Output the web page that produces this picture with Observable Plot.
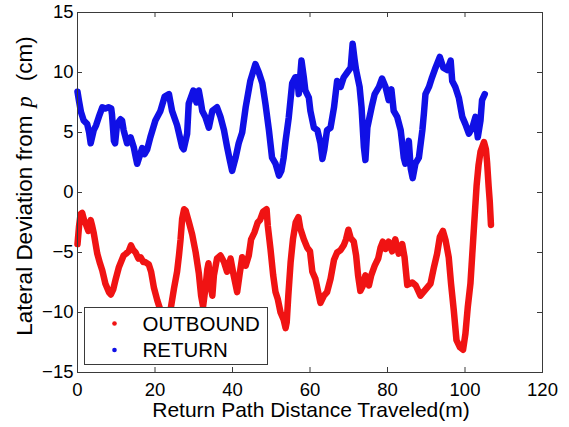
<!DOCTYPE html>
<html>
<head>
<meta charset="utf-8">
<script src="https://cdn.jsdelivr.net/npm/d3@7"></script>
<script src="https://cdn.jsdelivr.net/npm/@observablehq/plot@0.6"></script>
<style>
  html, body { margin: 0; padding: 0; background: #fff; }
  #chart { width: 569px; height: 427px; }
</style>
</head>
<body>
<div id="chart"></div>
<script>
// ---- Data ----
const xTicks = [0, 20, 40, 60, 80, 100, 120];
const yTicks = [-15, -10, -5, 0, 5, 10, 15];
const seriesNames = ["OUTBOUND", "RETURN"];
const xLabel = "Return Path Distance Traveled(m)";
const yLabelParts = ["Lateral Deviation from", "p", "(cm)"];

// OUTBOUND (red)
const outboundX = [0.0,0.4,0.8,1.2,1.7,2.1,2.8,3.4,3.8,4.2,5.1,5.8,6.4,7.2,8.1,8.6,9.2,9.8,10.7,11.9,12.5,13.2,13.8,14.4,15.0,15.7,16.3,17.0,17.5,18.4,19.0,19.7,20.6,21.2,21.8,22.6,23.4,24.0,24.9,25.7,26.2,26.6,27.0,27.5,27.9,28.7,29.6,30.5,31.3,31.9,32.4,33.0,33.5,33.8,34.3,34.8,35.2,36.0,36.9,37.8,38.6,39.5,40.3,41.2,41.8,42.5,43.4,44.2,44.8,45.7,46.5,47.1,47.9,48.8,49.1,49.8,50.5,51.1,51.7,52.4,53.2,53.7,54.0,54.4,55.0,55.6,56.3,57.0,57.5,58.4,59.3,60.0,60.6,61.4,62.3,62.7,63.6,64.4,65.3,66.2,67.0,67.9,68.7,69.3,69.9,70.5,71.3,71.9,72.4,73.0,73.6,74.3,75.2,75.8,76.7,77.6,78.2,78.8,79.5,80.3,81.2,82.0,82.9,83.8,84.4,85.1,86.4,87.3,88.5,89.8,91.1,92.0,92.8,93.5,94.3,95.0,95.8,96.4,97.1,97.8,98.7,99.5,100.1,100.7,101.4,102.1,103.0,103.5,104.0,104.9,105.4,105.7,106.1,106.4,106.7];
const outboundY = [-4.3,-2.8,-1.8,-1.7,-2.3,-2.6,-3.2,-2.3,-2.8,-3.4,-5.1,-5.9,-6.5,-7.6,-8.3,-8.5,-8.1,-7.3,-6.2,-5.25,-5.1,-4.9,-4.4,-4.8,-5.0,-5.5,-5.4,-5.8,-5.8,-6.0,-6.6,-7.9,-9.0,-9.6,-10.0,-10.3,-10.3,-9.8,-8.0,-6.6,-5.2,-3.9,-2.2,-1.4,-1.5,-2.4,-3.5,-5.0,-6.7,-8.6,-9.5,-8.0,-6.4,-5.9,-7.7,-8.6,-6.9,-5.5,-5.25,-5.8,-6.6,-5.5,-6.9,-8.3,-6.9,-5.4,-6.1,-5.25,-3.9,-3.3,-2.5,-2.3,-1.6,-1.4,-2.75,-4.7,-6.9,-8.3,-8.9,-10.0,-10.6,-11.3,-10.8,-8.6,-5.8,-3.9,-2.5,-2.05,-3.0,-3.9,-4.6,-4.9,-6.6,-7.2,-8.6,-9.2,-8.6,-8.3,-7.2,-5.6,-5.0,-4.8,-4.4,-3.9,-3.1,-3.8,-4.1,-5.25,-6.9,-8.2,-7.8,-6.9,-7.75,-6.9,-6.1,-5.5,-4.6,-4.1,-4.7,-4.1,-4.9,-3.9,-5.1,-4.3,-5.4,-7.7,-7.5,-7.75,-8.6,-8.1,-7.6,-6.2,-5.1,-3.7,-3.2,-4.0,-5.4,-7.6,-9.8,-12.3,-12.9,-13.1,-11.8,-9.6,-7.6,-4.0,0.6,2.3,3.4,4.2,3.6,2.5,0.5,-0.8,-2.7];

// RETURN (blue)
const returnX = [0.0,0.4,0.9,1.6,2.5,3.0,3.4,4.2,4.8,5.5,6.4,7.2,8.0,8.7,8.9,9.4,9.7,10.2,11.1,11.5,11.9,12.8,13.7,14.5,15.0,15.4,16.0,16.7,17.3,18.0,18.8,20.1,21.4,22.5,23.6,24.4,25.7,27.0,27.4,28.3,28.7,29.9,30.7,31.3,31.8,32.2,33.0,33.9,34.8,36.0,36.9,37.8,38.6,39.3,39.9,40.8,41.6,42.5,43.4,44.6,45.9,46.8,47.7,48.5,49.4,50.2,51.1,52.0,52.6,53.2,53.7,54.5,55.4,56.2,56.7,57.1,57.8,58.4,58.8,59.7,60.1,61.0,61.9,62.7,63.2,63.7,64.4,65.3,66.2,67.0,67.9,68.7,69.6,70.5,71.0,71.5,71.9,72.8,73.3,73.9,74.3,74.8,75.9,76.7,77.8,78.6,79.5,80.3,81.0,81.6,82.5,83.4,83.8,84.2,84.6,85.5,86.0,86.5,87.2,88.1,89.0,89.4,89.8,90.7,91.5,92.4,93.5,94.4,95.4,96.3,96.7,97.5,98.4,99.3,100.1,101.0,101.9,102.7,103.3,104.0,104.4,105.1];
const returnY = [8.4,7.6,6.7,6.0,5.7,5.0,4.1,5.2,5.6,6.3,7.1,7.0,7.1,7.0,6.5,4.3,4.1,5.7,6.1,6.0,5.2,4.1,4.6,3.8,3.0,2.4,3.0,3.7,3.2,3.6,4.6,6.0,6.8,8.0,8.2,6.8,5.6,3.8,3.6,4.9,7.4,8.5,7.5,8.5,7.6,6.8,6.3,5.4,6.8,7.1,6.3,5.2,3.8,2.7,1.8,2.9,4.1,5.0,7.1,9.3,10.7,10.0,9.1,7.4,5.2,2.9,2.4,1.4,1.8,2.9,4.3,6.2,9.1,9.6,9.6,8.2,11.0,9.6,8.5,7.9,6.8,5.4,5.2,4.1,2.8,3.6,5.2,5.4,7.1,9.3,8.8,9.6,10.0,10.4,12.4,11.1,10.2,8.8,7.1,3.8,2.7,5.4,7.1,8.2,8.8,9.5,8.8,7.7,8.6,6.8,6.3,5.2,4.1,2.9,2.4,4.3,2.0,1.2,2.4,2.9,5.2,6.6,8.2,8.8,9.6,10.4,11.3,10.4,10.2,11.0,9.3,8.8,7.9,6.3,5.7,4.9,5.4,6.3,4.6,6.0,7.7,8.2];

const RED = "#f01313";
const BLUE = "#1010e6";
const FRAME = "#3a3a3a";

const outbound = outboundX.map((x, i) => ({x, y: outboundY[i]}));
const ret = returnX.map((x, i) => ({x, y: returnY[i]}));

const W = 569, H = 427;
const mL = 77, mR = 27, mT = 12, mB = 55;
const fw = W - mL - mR, fh = H - mT - mB;
const tickLen = 5;

const chart = Plot.plot({
  width: W, height: H,
  marginLeft: mL, marginRight: mR, marginTop: mT, marginBottom: mB,
  style: {fontFamily: "'Liberation Sans', Arial, sans-serif", background: "white", color: "#000"},
  x: {domain: [0, 120], label: null},
  y: {domain: [-15, 15], label: null},
  marks: [
    Plot.line(outbound, {x: "x", y: "y", stroke: RED, strokeWidth: 6.5, strokeLinejoin: "round", strokeLinecap: "round"}),
    Plot.line(ret, {x: "x", y: "y", stroke: BLUE, strokeWidth: 6.5, strokeLinejoin: "round", strokeLinecap: "round"}),
    Plot.frame({stroke: FRAME, strokeWidth: 1}),
    Plot.tickX(xTicks, {x: d => d, insetTop: fh - tickLen, stroke: FRAME}),
    Plot.tickX(xTicks, {x: d => d, insetBottom: fh - tickLen, stroke: FRAME}),
    Plot.tickY(yTicks, {y: d => d, insetRight: fw - tickLen, stroke: FRAME}),
    Plot.tickY(yTicks, {y: d => d, insetLeft: fw - tickLen, stroke: FRAME}),
    Plot.axisX({ticks: xTicks, tickSize: 0, tickPadding: 10, fontSize: 18.5, label: null}),
    Plot.axisY({ticks: yTicks, tickSize: 0, tickPadding: 4, fontSize: 18.5, label: null})
  ]
});

document.getElementById("chart").appendChild(chart);

const svg = d3.select(chart);
const font = "'Liberation Sans', Arial, sans-serif";

// x-axis title
svg.append("text")
  .attr("x", 311).attr("y", 417)
  .attr("text-anchor", "middle")
  .attr("font-family", font).attr("font-size", 21)
  .attr("fill", "#000")
  .text(xLabel);

// y-axis title (rotated)
const yl = svg.append("text")
  .attr("transform", "translate(32,186) rotate(-90)")
  .attr("text-anchor", "middle")
  .attr("font-family", font).attr("font-size", 22.5)
  .attr("fill", "#000");
yl.append("tspan").text(yLabelParts[0]);
yl.append("tspan").attr("dx", 8).attr("font-family", "'Liberation Serif', 'DejaVu Serif', serif").attr("font-style", "italic").text(yLabelParts[1]);
yl.append("tspan").attr("dx", 15).text(yLabelParts[2]);

// legend
const lg = svg.append("g").attr("text-anchor", "start");
lg.append("rect").attr("x", 84.5).attr("y", 307.5).attr("width", 183).attr("height", 57)
  .attr("fill", "white").attr("stroke", FRAME).attr("stroke-width", 1);
const entries = [{name: seriesNames[0], color: RED, y: 323.5}, {name: seriesNames[1], color: BLUE, y: 350}];
for (const e of entries) {
  lg.append("circle").attr("cx", 114.5).attr("cy", e.y).attr("r", 2.3).attr("fill", e.color);
  lg.append("text").attr("x", 142.5).attr("y", e.y).attr("dy", "0.36em")
    .attr("text-anchor", "start")
    .attr("font-family", font).attr("font-size", 20.5).attr("fill", "#000").text(e.name);
}
</script>
</body>
</html>
